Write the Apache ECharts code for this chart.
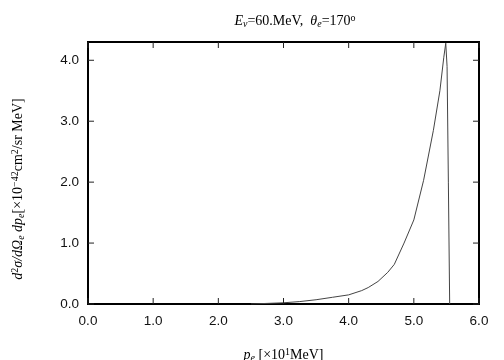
<!DOCTYPE html>
<html>
<head>
<meta charset="utf-8">
<script src="https://cdn.jsdelivr.net/npm/echarts@6/dist/echarts.min.js"></script>
<style>
html, body { margin: 0; padding: 0; background: #fff; }
#main { width: 504px; height: 360px; }
</style>
</head>
<body>
<div id="main"></div>
<script>
// electron momentum [x10 MeV] and cross section [x10^-42 cm^2/sr MeV]
var pe = [2.5, 3.0, 3.25, 3.5, 3.75, 4.0, 4.2, 4.3, 4.45, 4.6, 4.7, 4.85, 5.0, 5.15, 5.3, 5.4, 5.46, 5.49, 5.51, 5.53, 5.55];
var sigma = [0.0, 0.02, 0.04, 0.07, 0.11, 0.15, 0.22, 0.27, 0.37, 0.52, 0.65, 1.0, 1.38, 2.03, 2.85, 3.5, 4.05, 4.28, 3.9, 2.0, 0.0];
var xTicks = [0, 1, 2, 3, 4, 5, 6];
var yTicks = [0, 1, 2, 3, 4];
var xMax = 6, yMax = 4.3;

var chart = echarts.init(document.getElementById('main'));

var points = pe.map(function (x, i) { return [x, sigma[i]]; });
var serif = '"Liberation Serif", "Times New Roman", serif';
var sans = '"Liberation Sans", Arial, sans-serif';

function richText(size, colorKey) {
    var c = {};
    c[colorKey] = '#000';
    var base = { fontFamily: serif, fontSize: size, fontWeight: 'normal' };
    var sub = Math.round(size * 0.72);
    return {
        i: Object.assign({ fontStyle: 'italic' }, base, c),
        n: Object.assign({}, base, c),
        sub: Object.assign({}, base, c, { fontStyle: 'italic', fontSize: sub, verticalAlign: 'bottom', padding: [6, 0, 0, 0] }),
        sup: Object.assign({}, base, c, { fontSize: sub, verticalAlign: 'top', padding: [0, 0, 6, 0] })
    };
}
var fmt = function (v) { return v.toFixed(1); };

// inward tick marks on all four sides, placed through the axes' own scales
var TICK = 6;
var tickItems = xTicks.map(function (v) { return [v, 0]; }).concat(yTicks.map(function (v) { return [0, v]; }));
function renderTicks(params, api) {
    var i = params.dataIndex;
    var style = { stroke: '#222', lineWidth: 1 };
    var a, b;
    if (i < xTicks.length) {
        a = api.coord([xTicks[i], 0]);
        b = api.coord([xTicks[i], yMax]);
        return { type: 'group', children: [
            { type: 'line', shape: { x1: a[0], y1: a[1], x2: a[0], y2: a[1] - TICK }, style: style },
            { type: 'line', shape: { x1: b[0], y1: b[1], x2: b[0], y2: b[1] + TICK }, style: style }
        ] };
    }
    var v = yTicks[i - xTicks.length];
    a = api.coord([0, v]);
    b = api.coord([xMax, v]);
    return { type: 'group', children: [
        { type: 'line', shape: { x1: a[0], y1: a[1], x2: a[0] + TICK, y2: a[1] }, style: style },
        { type: 'line', shape: { x1: b[0], y1: b[1], x2: b[0] - TICK, y2: b[1] }, style: style }
    ] };
}

chart.setOption({
    animation: false,
    backgroundColor: '#fff',
    title: {
        text: '{i|E}{sub|ν}{n|=60.MeV,  }{i|θ}{sub|e}{n|=170}{sup|o}',
        left: 290, top: 8, textAlign: 'center',
        textStyle: { fontWeight: 'normal', rich: richText(14, 'color') }
    },
    grid: {
        left: 88, right: 25, top: 42, bottom: 56, outerBoundsMode: 'none',
        show: true, borderColor: '#000', borderWidth: 2, backgroundColor: 'transparent'
    },
    xAxis: {
        type: 'value', min: 0, max: xMax, interval: 1,
        axisLine: { show: false }, axisTick: { show: false }, splitLine: { show: false },
        axisLabel: { formatter: fmt, fontFamily: sans, fontSize: 13.5, color: '#111', margin: 10 },
        name: '{i|p}{sub|e}{n| [×10}{sup|1}{n|MeV]}',
        nameLocation: 'middle', nameGap: 43,
        nameTextStyle: { rich: richText(14, 'color') }
    },
    yAxis: {
        type: 'value', min: 0, max: yMax, interval: 1,
        axisLine: { show: false }, axisTick: { show: false }, splitLine: { show: false },
        axisLabel: {
            fontFamily: sans, fontSize: 13.5, color: '#111', margin: 9,
            formatter: function (v) { return yTicks.indexOf(v) >= 0 ? fmt(v) : ''; }
        }
    },
    graphic: [{
        type: 'text',
        x: 18, y: 189, rotation: Math.PI / 2,
        style: {
            text: '{i|d}{sup|2}{i|σ/dΩ}{sub|e}{i| dp}{sub|e}{n|[×10}{sup|−42}{n|cm}{sup|2}{n|/sr MeV]}',
            align: 'center', verticalAlign: 'middle',
            rich: richText(14, 'fill')
        }
    }],
    series: [{
        type: 'line',
        data: points,
        showSymbol: false,
        lineStyle: { color: '#444', width: 1 }
    }, {
        type: 'custom',
        data: tickItems,
        renderItem: renderTicks,
        silent: true,
        clip: false,
        z: 5
    }]
});
</script>
</body>
</html>
